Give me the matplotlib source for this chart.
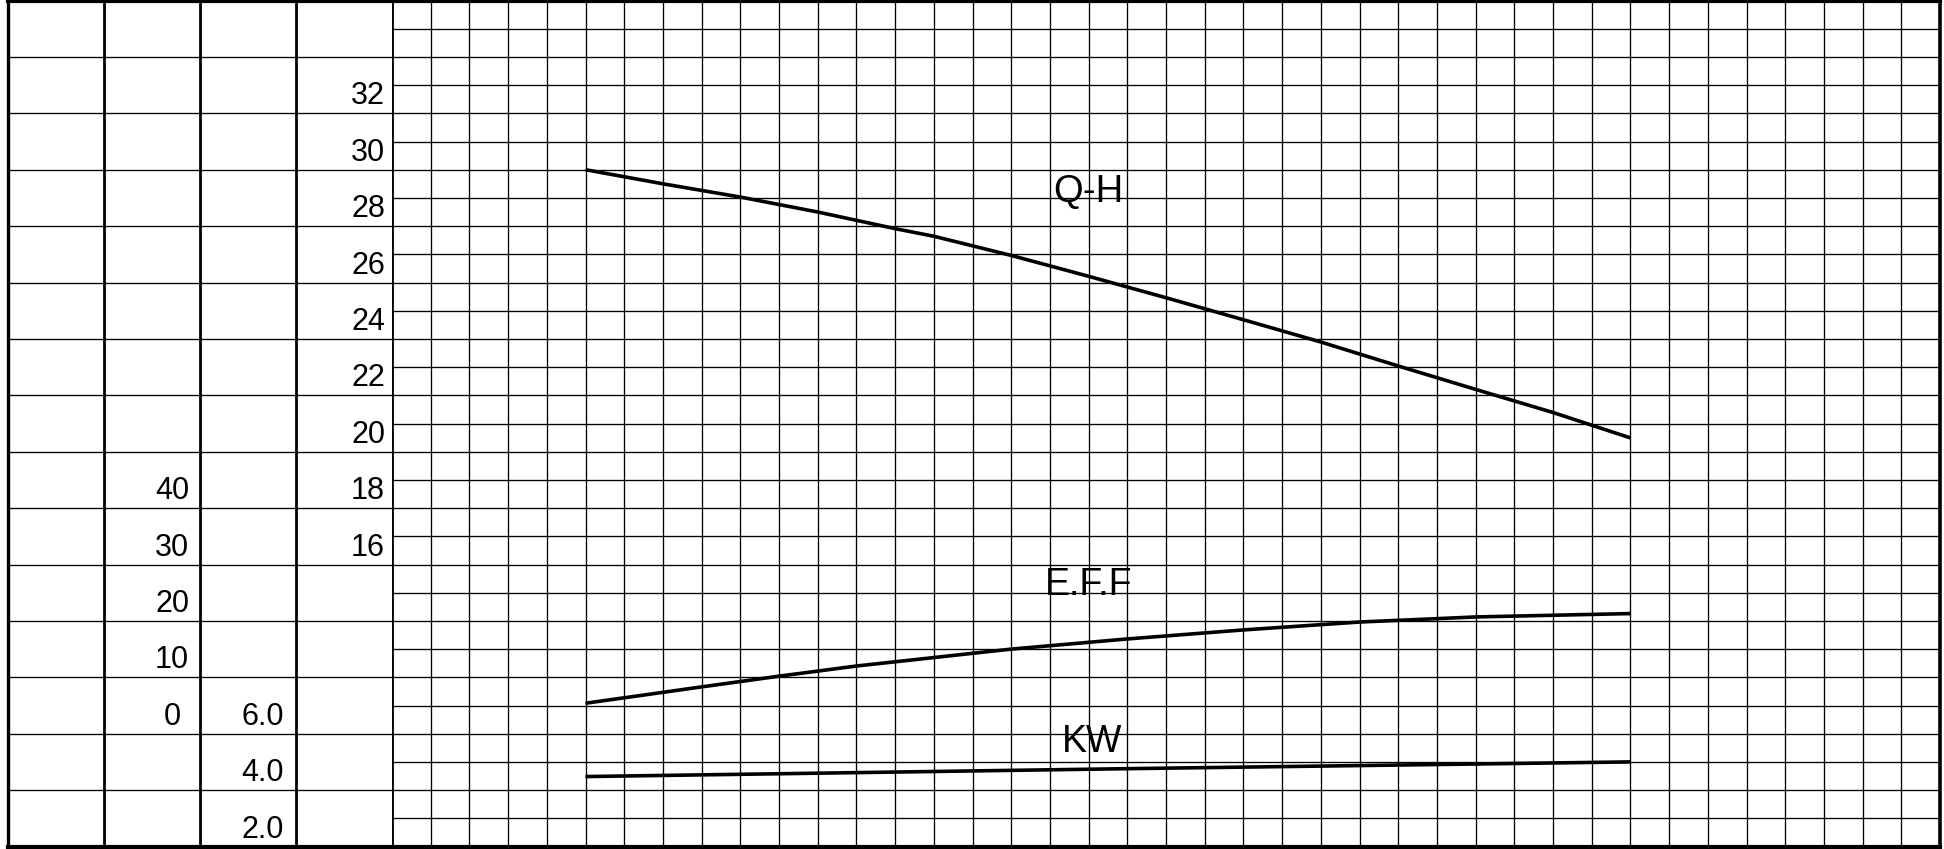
import matplotlib
matplotlib.use("Agg")
import matplotlib.pyplot as plt
import matplotlib.transforms as mtransforms

plt.rcParams["font.family"] = ["Liberation Sans", "DejaVu Sans"]

# ---------------- data ----------------
qh_flow = [5, 7, 9, 11, 13, 14, 16, 18, 20, 22, 24, 26, 28, 30, 32]
qh_head = [30.0, 29.5, 29.03, 28.5, 27.91, 27.64, 26.96, 26.22, 25.46,
           24.68, 23.89, 23.04, 22.21, 21.39, 20.49]

eff_flow = [5, 8, 10, 12, 16, 19, 22, 25, 28, 32]
eff_values = [5.4, 8.3, 10.2, 12.0, 15.0, 16.8, 18.4, 19.8, 20.7, 21.3]

kw_flow = [5, 12, 19, 25, 32]
kw_values = [4.48, 4.62, 4.76, 4.87, 5.00]

head_ticks = [32, 30, 28, 26, 24, 22, 20, 18, 16]
eff_ticks = [40, 30, 20, 10, 0]
power_ticks = [6.0, 4.0, 2.0]
curve_labels = ["Q-H", "E.F.F", "KW"]

flow_range = (0, 40)
head_range = (6, 36)
eff_range = (-20, 130)      # same pixel span as head_range
power_range = (2, 32)       # same pixel span as head_range

# ---------------- layout ----------------
W, H = 1944, 849
fig = plt.figure(figsize=(W / 100, H / 100), dpi=100)

top_px, bot_px = 0.5, 846.5
ab = (H - bot_px) / H
ah = (bot_px - top_px) / H
grid_left, grid_right = 392, 1940
tab_left = 8

ax = fig.add_axes([grid_left / W, ab, (grid_right - grid_left) / W, ah])
ax.set_xlim(*flow_range)
ax.set_ylim(*head_range)
ax.set_xticks(range(flow_range[0], flow_range[1] + 1))
ax.set_yticks(range(head_range[0], head_range[1] + 1))
ax.tick_params(length=0, labelbottom=False, labelleft=False)
ax.grid(True, color="black", lw=0.95)
ax.set_axisbelow(True)
for side, lw in [("left", 2.0), ("right", 2.6), ("top", 3.0), ("bottom", 3.0)]:
    ax.spines[side].set_linewidth(lw)
    ax.spines[side].set_color("black")

ax_eff = fig.add_axes(ax.get_position(), frameon=False)
ax_eff.set_xlim(*flow_range)
ax_eff.set_ylim(*eff_range)
ax_eff.axis("off")

ax_kw = fig.add_axes(ax.get_position(), frameon=False)
ax_kw.set_xlim(*flow_range)
ax_kw.set_ylim(*power_range)
ax_kw.axis("off")

# table at the left
axt = fig.add_axes([tab_left / W, ab, (grid_left - tab_left) / W, ah])
axt.set_xlim(0, 4)
axt.set_ylim(*head_range)
axt.set_xticks([])
axt.set_yticks([])
axt.spines["right"].set_visible(False)
for side, lw in [("left", 2.4), ("top", 3.0), ("bottom", 3.0)]:
    axt.spines[side].set_linewidth(lw)
for c in (1, 2, 3):
    axt.axvline(c, color="black", lw=2.0)
for h in range(head_range[0] + 2, head_range[1], 2):
    axt.axhline(h, color="black", lw=0.95)

# ---------------- curves ----------------
ax.plot(qh_flow, qh_head, color="black", lw=2.6, solid_capstyle="butt",
        solid_joinstyle="round", zorder=5)
ax_eff.plot(eff_flow, eff_values, color="black", lw=2.6, solid_capstyle="butt",
            solid_joinstyle="round", zorder=5)
ax_kw.plot(kw_flow, kw_values, color="black", lw=2.6, solid_capstyle="butt",
           solid_joinstyle="round", zorder=5)

ax.text(18.0, 28.87, curve_labels[0], ha="center", va="baseline", fontsize=27.5)
ax.text(18.0, 14.92, curve_labels[1], ha="center", va="baseline", fontsize=27)
ax.text(18.1, 9.35, curve_labels[2], ha="center", va="baseline", fontsize=27)

# ---------------- scale labels ----------------
def lab_trans(yaxes):
    tr = mtransforms.blended_transform_factory(axt.transData, yaxes.transData)
    return mtransforms.offset_copy(tr, fig=fig, y=9, units="dots")

tr_head = lab_trans(ax)
for v in head_ticks:
    axt.text(3.75, v, f"{v}", transform=tr_head, ha="center", va="baseline",
             fontsize=22)

tr_eff = lab_trans(ax_eff)
for v in eff_ticks:
    axt.text(1.71, v, f"{v}", transform=tr_eff, ha="center", va="baseline",
             fontsize=22)

tr_kw = lab_trans(ax_kw)
for v in power_ticks:
    axt.text(2.65, v, f"{v:.1f}", transform=tr_kw, ha="center", va="baseline",
             fontsize=22)

fig.savefig("out.png", dpi=100, facecolor="white")
